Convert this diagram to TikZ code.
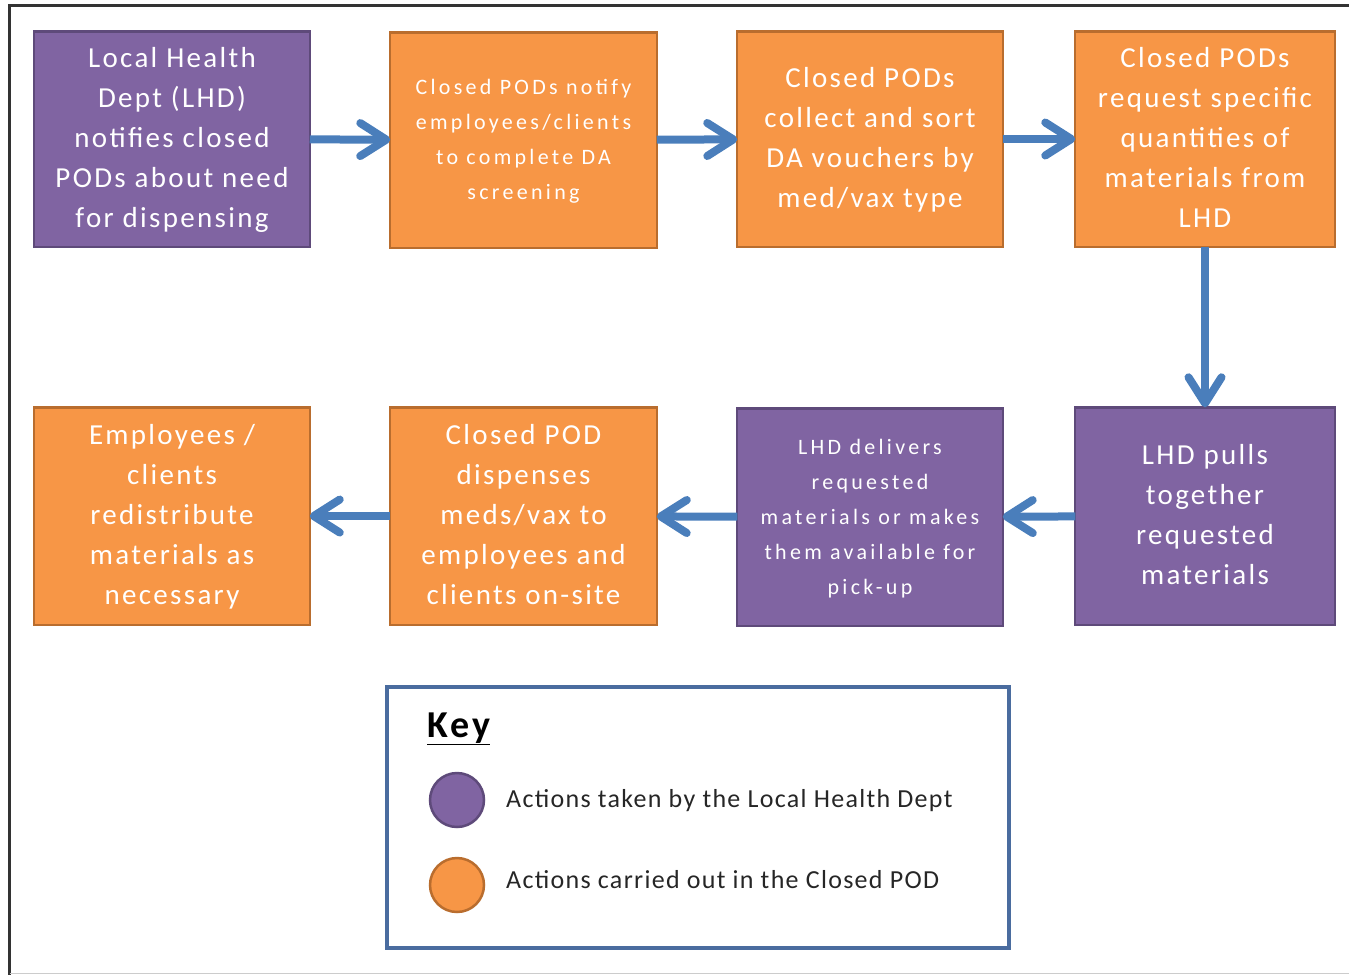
\documentclass[tikz,border=0pt]{standalone}
\usepackage{fontspec}
\setmainfont{Carlito}[LetterSpace=8]
\newfontfamily\smallbox{Carlito}[LetterSpace=15]
\newfontfamily\keyfont{Carlito}[LetterSpace=5]
\usetikzlibrary{matrix,arrows.meta}

\definecolor{lhdpurple}{HTML}{8064A2}
\definecolor{lhdborder}{HTML}{5E4A7A}
\definecolor{podorange}{HTML}{F79646}
\definecolor{podborder}{HTML}{B96D2E}
\definecolor{flowblue}{HTML}{4A7EBB}
\definecolor{keyblue}{HTML}{4A6C9F}
\definecolor{keytext}{HTML}{262626}

\newcommand\boxlines[1]{\begin{tabular}{@{}c@{}}#1\end{tabular}}

\tikzset{
  lhd/.style={fill=lhdpurple, draw=lhdborder},
  pod/.style={fill=podorange, draw=podborder},
  small/.style={font=\smallbox\fontsize{22}{35}\selectfont},
  flow/.style={line width=8pt, draw=flowblue, -{Straight Barb[length=26pt,width=33pt,round]}},
  keyitem/.style={anchor=base west, inner sep=0pt, text=keytext, font=\keyfont\fontsize{26}{30}\selectfont}
}

\begin{document}
\begin{tikzpicture}[x=1pt, y=-1pt]
  \useasboundingbox (0,0) rectangle (1349,975);
  \draw[line width=3pt, black!80] (1349,5.5) -- (9.5,5.5) -- (9.5,975);
  \draw[black!20] (9.5,973.5) -- (1349,973.5);

  \matrix (m) [matrix of nodes, anchor=north west, inner sep=0pt, outer sep=0pt,
    row sep=157pt, column sep=70pt,
    nodes={line width=2.5pt, minimum height=215.5pt, inner ysep=2pt, text=white,
      font=\fontsize{29}{40}\selectfont},
    row 2/.style={nodes={minimum height=217.5pt}},
    column 1/.style={nodes={minimum width=275.5pt}},
    column 2/.style={nodes={minimum width=266.5pt}},
    column 3/.style={nodes={minimum width=265.5pt}},
    column 4/.style={nodes={minimum width=259.5pt}}] at (33,30)
  {
|[lhd]| \boxlines{Local Health\\Dept (LHD)\\notifies closed\\PODs about need\\for dispensing} &[8pt]
|[pod,small]| \boxlines{Closed PODs notify\\employees/clients\\to complete DA\\screening} &[8pt]
|[pod]| \boxlines{Closed PODs\\collect and sort\\DA vouchers by\\med/vax type} &
|[pod]| \boxlines{Closed PODs\\request specific\\quantities of\\materials from\\LHD} \\
|[pod]| \boxlines{Employees /\\clients\\redistribute\\materials as\\necessary} &
|[pod]| \boxlines{Closed POD\\dispenses\\meds/vax to\\employees and\\clients on-site} &
|[lhd,small]| \boxlines{LHD delivers\\requested\\materials or makes\\them available for\\pick-up} &
|[lhd]| \boxlines{LHD pulls\\together\\requested\\materials} \\
  };
  \path[flow]
  (m-1-1) edge (m-1-2)
  (m-1-2) edge (m-1-3)
  (m-1-3) edge (m-1-4)
  (m-1-4) edge (m-2-4)
  (m-2-4) edge (m-2-3)
  (m-2-3) edge (m-2-2)
  (m-2-2) edge (m-2-1);

  % key
  \node[draw=keyblue, line width=3.5pt, minimum width=622pt, minimum height=261pt, inner sep=0pt] (key) at (698,817.5) {};
  \node[anchor=base west, inner sep=0pt, font=\bfseries\fontsize{38}{40}\selectfont] (keytitle) at (427,737) {\underline{Key}};
  \node[lhd, circle, line width=2.5pt, minimum size=54pt, inner sep=0pt] (keylhd) at (457,800) {};
  \node[pod, circle, line width=2.5pt, minimum size=54pt, inner sep=0pt] (keypod) at (457,885) {};
  \node[keyitem] (keylhdtext) at (506,807) {Actions taken by the Local Health Dept};
  \node[keyitem] (keypodtext) at (506,888) {Actions carried out in the Closed POD};
\end{tikzpicture}
\end{document}
